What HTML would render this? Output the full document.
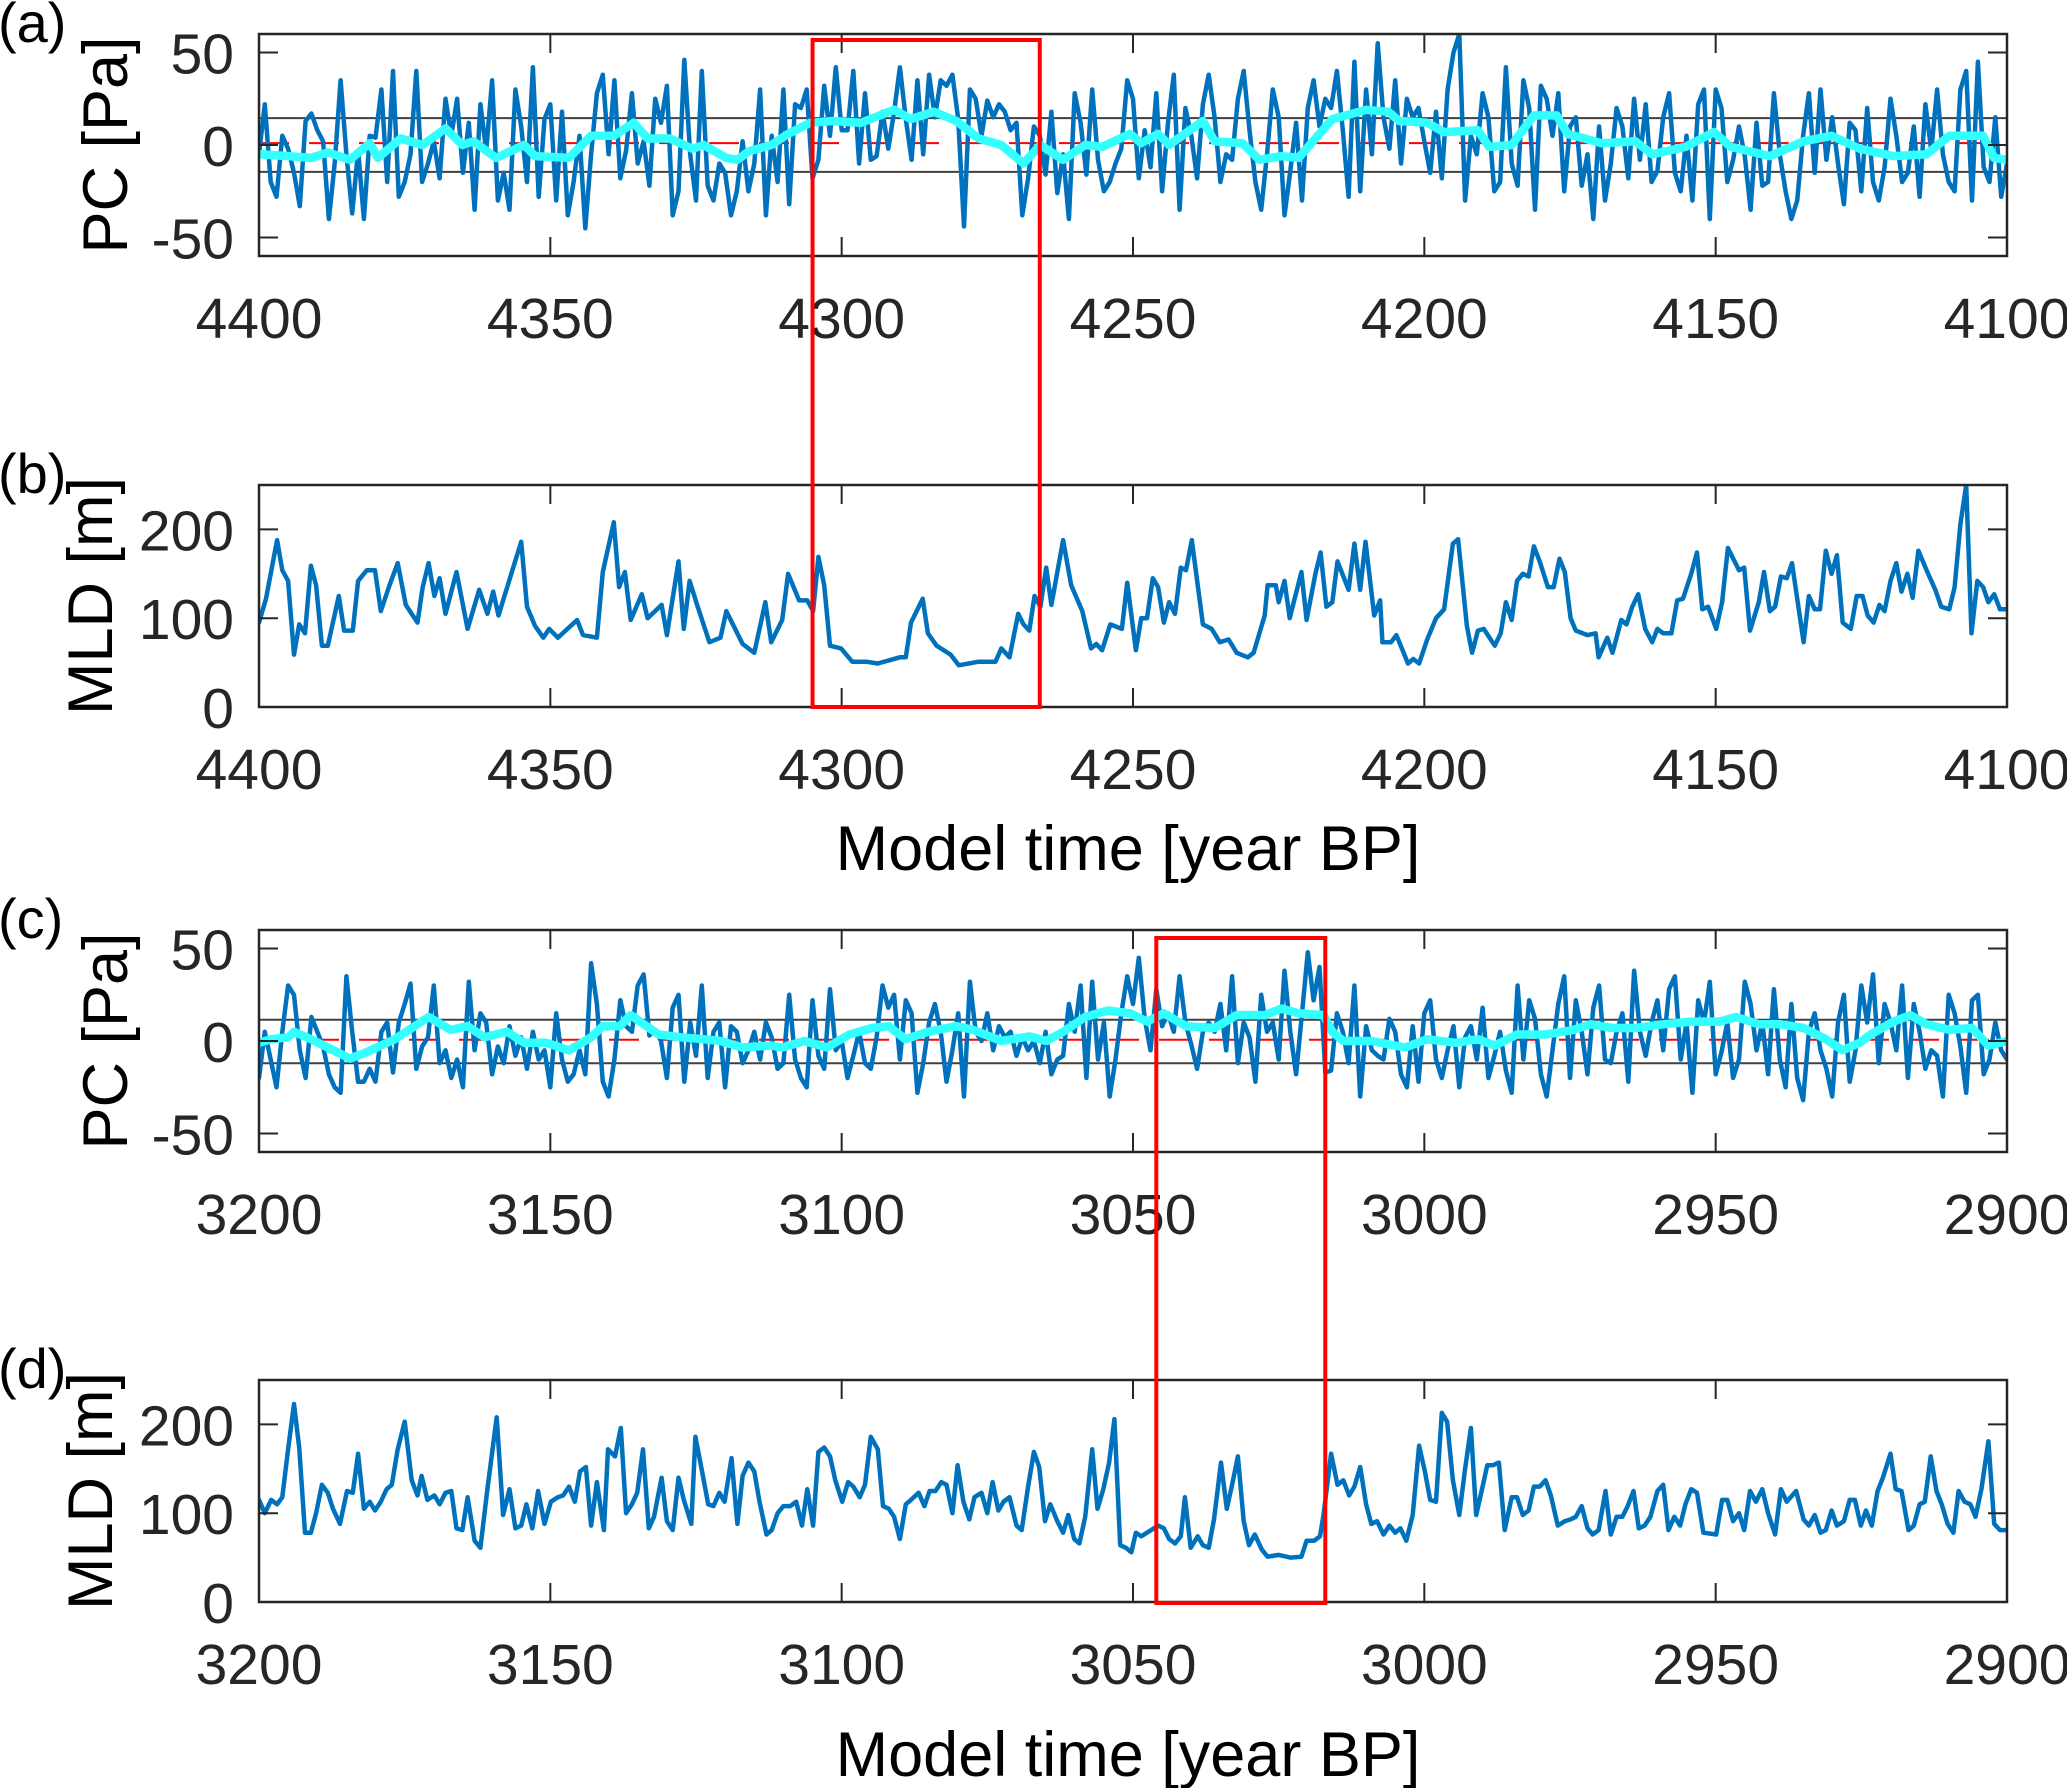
<!DOCTYPE html>
<html><head><meta charset="utf-8"><style>
html,body{margin:0;padding:0;background:#fff;}
svg{display:block;font-family:"Liberation Sans",Arial,sans-serif;}
</style></head><body>
<svg id="fig" width="2067" height="1788" viewBox="0 0 2067 1788" xmlns="http://www.w3.org/2000/svg"></svg>
<script>
// ---------- DATA ----------
const xTicksTop = [4400,4350,4300,4250,4200,4150,4100];
const xTicksBottom = [3200,3150,3100,3050,3000,2950,2900];
const pcTicks = [-50,0,50];
const mldTicks = [0,100,200];
const thrA = [14.5,-14.5];
const thrC = [11.5,-12];
const meanLineA = 1;
const meanLineC = 0.7;
const boxTop = [4305,4266];
const boxBottom = [3046,3017];

const pcA = [
-5,22,-20,-28,5,-2,-15,-33,13,17, 8,2,-40,-10,35,-5,-37,-3,-40,5,
4,30,-20,40,-28,-20,-5,40,-20,-10, 2,-18,25,5,25,-15,12,-35,22,-3,
35,-30,-15,-35,30,10,-20,42,-28,14, 22,-30,18,-38,-20,5,-45,-5,28,38,
-5,35,-18,-3,28,-10,2,-22,25,12, 32,-38,-25,46,-5,-30,40,-22,-30,-10,
-15,-38,-25,2,-25,-10,30,-38,5,-20, 30,-32,22,20,30,-18,-8,32,5,42,
8,8,40,-10,28,-8,-6,18,-2,18, 42,14,-8,35,-5,38,15,35,32,38,
14,-44,30,25,5,24,15,22,18,8, 12,-38,-18,10,5,-16,18,-26,-5,-40,
28,12,-16,30,-8,-25,-20,-10,-2,35, 25,-18,8,-12,28,-25,12,38,-35,20,
5,-18,22,38,15,-20,-5,-8,25,40, 8,-20,-35,-5,30,15,-38,-14,12,-30,
20,35,10,25,20,40,8,-28,45,-25, 30,-5,55,15,-2,35,-10,25,15,20,
2,-15,18,-18,30,50,60,-30,5,-5, 28,15,-25,-20,42,-10,-22,35,20,-35,
32,25,5,28,-25,10,15,-22,-5,-40, 10,-30,-10,20,10,-18,25,-8,22,-20,
-14,15,28,-15,-25,5,-30,22,30,-40, 30,20,-20,-8,10,-6,-35,12,-22,-20,
28,-5,-25,-40,-30,5,28,-15,30,-8, 15,-10,-32,12,8,-25,20,-20,-30,-12,
25,5,-20,-15,10,-28,22,-3,30,-5, -20,-25,30,40,-30,45,-12,-20,15,-28,
-10];
const smoothA = [[0,-5],[5,-6],[8.9,-7],[11.8,-4],[15.6,-8],[19,1],[20.4,-7],[24.3,3.5],[28.1,0],[32,9],[34.9,0],[36.8,2],[40.7,-7],[45.5,0],[47.4,-6],[53.2,-7],[57,5],[60.9,5],[64.3,12],[66.7,3.5],[70.5,3.5],[74.4,-2],[76.3,0],[80.2,-7],[82.1,-8],[84,-3.5],[87.9,0],[90.8,6],[94.6,12],[98.5,13],[103.3,12],[109,19],[111.9,14],[115.8,18],[119.7,13],[123.5,3.5],[127.4,0],[131.2,-10],[134.1,0],[138,-8],[141.8,0],[144.7,-1],[149.5,6],[151.4,1],[154.3,6],[156.2,0],[162,13],[164,2],[168.8,1],[171.7,-8],[175.5,-6],[178.4,-7],[184.2,14],[190,19],[193.8,18],[195.7,13],[200.5,12],[203.4,7],[209.2,8],[211.1,-1],[215,0],[218.8,16],[222.7,16],[224.6,6],[230.4,1],[236.2,2],[239.1,-5],[244.8,-1],[249.7,7],[252.6,-1],[259.3,-6],[265.1,2],[269.9,5],[274.7,-2],[280.5,-6],[286.2,-5],[290.1,5],[295.9,5],[297.8,-7],[300,-8]];
const mldB = [[0,95],[1.2,122],[3.1,188],[4,154],[5,142],[6,59],[6.9,93],[7.9,83],[8.9,159],[9.8,137],[10.8,69],[11.8,69],[13.7,125],[14.6,86],[16.1,86],[17,142],[18.5,154],[19.9,154],[20.9,108],[22.4,137],[23.8,162],[25.2,115],[27.2,95],[28.1,135],[29.1,162],[30.1,125],[31,145],[32,105],[33.9,152],[35.8,88],[37.8,132],[39.2,105],[40.2,130],[41.1,103],[42.6,135],[45,186],[46,113],[47.4,91],[48.8,78],[49.8,88],[51.3,78],[54.6,98],[55.6,81],[58,78],[59,152],[60.9,208],[61.8,135],[62.8,152],[63.8,98],[65.7,127],[66.7,100],[69.1,115],[70,81],[72,164],[72.9,88],[73.9,142],[75.3,113],[77.3,73],[79.2,78],[80.2,108],[83,71],[85,61],[86.9,118],[87.9,73],[89.8,98],[90.8,150],[92.7,120],[94.1,120],[95.1,108],[96,169],[97,137],[98,69],[99.9,66],[101.8,51],[104.2,51],[106.2,49],[110,56],[111,56],[111.9,95],[113.9,122],[114.8,83],[116.3,69],[118.7,59],[120.1,47],[123.5,51],[126.4,51],[127.4,66],[128.8,56],[130.3,105],[131.2,93],[132.2,86],[133.1,125],[134.1,113],[135.1,157],[136,115],[138,188],[139.4,137],[141.3,108],[142.8,66],[143.7,71],[144.7,64],[146.1,93],[148.1,88],[149,140],[150.5,64],[151.4,100],[152.4,100],[153.4,145],[154.3,135],[155.3,95],[156.2,118],[157.2,105],[158.2,157],[159.1,154],[160.1,188],[162,93],[163.5,88],[164.9,73],[166.4,76],[167.8,61],[169.7,56],[170.7,61],[172.6,103],[173.1,137],[174.5,137],[175,118],[176,142],[176.9,100],[178.9,152],[179.8,98],[181.3,150],[182.2,174],[183.2,113],[184.2,118],[185.1,164],[187,132],[188,184],[189,132],[189.9,186],[191.4,103],[192.4,120],[192.8,73],[194.3,73],[195.2,81],[197.2,49],[198.1,54],[199.1,49],[200.5,76],[202,100],[203.4,110],[204.9,184],[205.8,189],[207.3,91],[208.2,61],[209.2,86],[210.2,88],[212.1,69],[213.1,83],[214,118],[215,98],[215.9,142],[216.9,150],[217.9,147],[218.8,181],[219.8,164],[221.2,135],[222.2,135],[223.2,167],[224.1,152],[225.1,100],[226,86],[228,81],[229.4,83],[229.9,56],[231.4,78],[232.3,61],[233.8,98],[234.7,93],[235.7,113],[236.7,127],[237.9,88],[239.1,73],[240,88],[241,83],[242.4,83],[243.4,120],[244.4,122],[245.8,150],[246.8,174],[247.7,110],[248.7,113],[250.1,88],[251.1,118],[252.1,179],[254,154],[254.9,157],[255.9,86],[257.4,118],[258.3,152],[259.3,108],[260.2,113],[261.2,147],[262.2,145],[263.1,162],[265.1,73],[266,125],[267,110],[267.9,110],[268.9,176],[269.9,150],[270.8,171],[271.8,95],[273.2,88],[274.2,125],[275.2,125],[276.1,103],[277.1,95],[278.1,115],[279,108],[280,142],[281,162],[281.9,130],[282.9,150],[283.8,123],[284.8,176],[286.2,154],[287.7,132],[288.7,113],[290.1,110],[291,135],[292,206],[293,250],[293.9,83],[294.9,142],[295.9,135],[296.8,118],[297.8,127],[298.8,110],[300,110]];

const pcC = [
-20,5,-10,-25,5,30,25,-5,-20,13, 5,-3,-18,-25,-28,35,5,-22,-22,-15,
-22,5,10,-17,10,20,31,-15,-3,2, 30,-12,-5,-20,-10,-25,32,-5,15,10,
-18,-3,-12,8,-8,2,-15,5,-10,-5, -25,15,-10,-22,-18,-5,-18,42,20,-22,
-30,-10,22,8,5,30,36,3,6,0, -20,18,25,-22,10,-8,30,-20,5,10,
-25,8,5,-12,-5,5,-10,10,2,-15, -12,25,-10,-20,-25,22,-8,-15,28,-5,
0,-20,-8,5,-12,-15,2,30,18,25, -10,22,15,-28,-12,10,20,5,-22,-5,
15,-30,32,5,0,15,-5,8,2,5, -8,2,-5,0,-12,5,-18,-10,-8,20,
5,30,-20,32,-10,10,-30,-10,15,35, 20,45,12,-5,28,8,15,5,35,10,
-2,-15,5,10,5,20,-5,35,-12,10, 2,-22,25,5,10,-10,38,5,-18,15,
48,22,40,-17,-16,15,5,-12,30,-30, 8,-5,-8,-10,12,5,-18,-25,8,-22,
15,22,-10,-20,-5,8,-25,2,8,-10, 18,-20,-8,5,-16,-28,30,-10,22,12,
-18,-30,-5,20,35,-20,22,5,-18,18, 30,-10,-12,5,15,-22,38,5,-8,10,
22,-5,28,35,-10,10,-28,22,10,32, -18,-6,10,-20,-10,32,20,-5,10,-18,
28,-10,-25,20,-20,-32,5,15,-5,-15, -30,10,25,-22,-5,30,10,36,-12,20,
10,-5,30,-20,20,5,-15,-5,-8,-30, 25,15,-3,-28,22,25,-18,-10,10,-5,
-10];
const smoothC = [[0,-1],[2.1,1],[5,2],[6,5],[8.9,1],[11.8,-3.5],[15.6,-9.5],[18.5,-6],[23.3,1],[29.1,13],[32.9,6],[35.8,8],[38.7,2],[42.6,5],[45.5,-1],[49.3,-1],[53.2,-5],[57,2],[59,8],[61.9,8],[63.8,14],[68.6,3.5],[72.4,2],[76.3,1],[79.2,0],[83,-3.5],[87.9,-2.5],[89.8,-3.5],[93.6,0],[97.5,-3.5],[101.3,3.5],[105.2,7],[108.1,8],[110.9,1],[114.8,5],[119.7,8],[122.6,6],[127.4,0],[132.2,2.5],[135.1,0],[138,5],[141.8,13],[145.7,16.5],[149.5,15],[152.4,10.5],[155.3,15],[159.1,8],[164,7],[167.8,14],[172.6,14],[175.5,17.5],[178.4,15],[182.7,14],[184.2,5],[186.1,0],[190.9,0],[196.7,-3.5],[200.5,1],[205.4,-1],[209.2,1],[212.1,-2.5],[215.9,3.5],[220.8,3.5],[225.6,6],[228.5,9],[232.3,7],[236.2,7],[241,9],[245.8,10.5],[250.6,10.5],[253.5,13],[257.4,9],[261.2,9],[265.1,7],[268.9,1],[271.8,-5],[274.7,-1],[276.6,3.5],[280.5,10.5],[283.4,14],[286.2,9],[290.1,6],[294,7],[296.8,-2.5],[300,0]];
const mldD = [[0,115],[1,100],[2.1,115],[3.1,110],[4,118],[5,172],[6,223],[6.9,174],[7.9,78],[8.9,78],[9.8,100],[10.8,132],[11.8,123],[12.7,105],[13.9,88],[15.1,125],[16.1,123],[17,167],[18,105],[19,113],[19.9,103],[20.9,113],[21.9,127],[22.8,132],[23.8,172],[25,203],[26.2,137],[27.2,120],[27.9,142],[28.9,115],[30.1,120],[31,110],[32,123],[33,125],[33.9,83],[34.9,81],[35.8,118],[37,69],[38,61],[39.2,127],[40.8,208],[41.9,98],[43,127],[44,83],[45,86],[45.9,110],[46.9,83],[47.9,125],[49,88],[50.1,113],[51.3,118],[52.2,120],[53.2,130],[54.2,113],[55.1,147],[56.1,152],[57,86],[58,135],[59.2,81],[59.9,172],[61.1,164],[62.1,196],[63,100],[64,110],[64.9,123],[65.9,172],[66.9,83],[67.8,96],[69.1,140],[70,91],[71,81],[72,140],[72.9,115],[74.2,88],[74.9,186],[76.1,145],[77.1,110],[78,108],[79,123],[79.9,113],[81.1,162],[82.1,88],[83,142],[84,157],[85,147],[85.9,113],[87.1,76],[88,81],[89,100],[90,108],[91.2,108],[92.2,113],[93.2,86],[94.1,127],[95.1,86],[96,169],[97,174],[98,164],[98.9,137],[100.1,113],[101.1,135],[102,130],[103.1,118],[104,132],[105,186],[106.2,172],[107.1,108],[108.1,105],[109,96],[110,71],[111,110],[111.9,115],[113.2,123],[114.2,108],[115.1,125],[116.1,125],[117.1,135],[118,132],[119,100],[119.9,154],[120.9,113],[121.9,93],[122.8,118],[124,123],[125,100],[125.9,135],[126.9,103],[127.8,113],[128.8,118],[130,86],[130.9,81],[132,130],[133,169],[133.9,152],[134.9,91],[135.8,110],[137,91],[138,78],[138.9,98],[139.9,71],[140.8,66],[141.8,96],[143,172],[143.9,105],[144.9,127],[145.9,157],[146.8,206],[147.8,64],[148.8,61],[149.7,56],[150.5,78],[151.4,74],[152.4,78],[154.3,86],[155.3,83],[156.2,71],[157.2,66],[158.2,74],[158.9,118],[159.9,61],[161.1,74],[162,64],[163,61],[163.9,93],[165.1,157],[166.1,105],[167,132],[168,164],[169,91],[169.9,64],[170.9,76],[172.1,59],[173.1,51],[175,53],[177,50],[178.9,51],[179.8,69],[181.1,69],[182.1,74],[182.7,98],[184,167],[185.1,132],[186.1,137],[187.1,120],[188,130],[189,152],[190,110],[190.9,88],[191.9,91],[193,76],[194,86],[195,78],[195.9,83],[196.9,69],[198,98],[199.1,176],[200.1,147],[201,115],[202,113],[203,213],[203.9,203],[204.9,137],[206,98],[207,150],[208,196],[208.9,98],[209.9,127],[210.8,154],[211.8,154],[212.8,157],[213.8,81],[215,118],[215.9,118],[216.9,98],[217.9,103],[218.8,130],[219.8,130],[220.8,137],[221.7,120],[222.9,86],[224.1,91],[225.1,93],[226,96],[227,108],[228,83],[228.9,76],[229.9,81],[231.1,125],[232,76],[233,96],[234,96],[234.9,108],[235.9,125],[236.8,83],[237.8,86],[238.8,96],[240,125],[241,132],[241.9,81],[242.9,96],[243.9,86],[244.8,110],[245.8,127],[246.8,123],[247.9,78],[250.1,76],[251.1,115],[252,115],[253,91],[254,100],[254.9,81],[255.9,125],[256.9,113],[258,127],[259,100],[260.2,76],[261.2,127],[262.2,113],[263.8,125],[265.1,93],[266,86],[267,98],[268,78],[268.9,81],[269.9,103],[270.8,86],[272,91],[273,115],[273.9,115],[274.9,86],[275.8,103],[276.8,86],[277.8,125],[278.7,140],[280,167],[280.9,127],[281.9,125],[283.1,81],[284,86],[285,110],[285.9,113],[286.9,164],[287.9,125],[288.8,110],[289.8,88],[290.8,78],[291.7,125],[292.7,113],[293.7,110],[294.6,96],[295.6,127],[296.8,181],[297.8,88],[298.8,81],[300,81]];

// ---------- DRAWING ----------
const svg = document.getElementById('fig');
const NS = 'http://www.w3.org/2000/svg';
const X0 = 259, X1 = 2007;
function el(tag, attrs, parent){
  const e = document.createElementNS(NS, tag);
  for (const k in attrs) e.setAttribute(k, attrs[k]);
  (parent||svg).appendChild(e);
  return e;
}
function panel(id, top, bottom, ymin, ymax, startYear, yticks, ylabel, letter, xticks){
  const g = el('g', {});
  
  
  const xs = yr => X0 + (startYear - yr) / 300 * (X1 - X0);
  const ys = v => bottom - (v - ymin) / (ymax - ymin) * (bottom - top);
  const clipId = 'clip-' + id;
  const cp = el('clipPath', {id: clipId}, g);
  el('rect', {x: X0, y: top, width: X1 - X0, height: bottom - top}, cp);
  const plot = el('g', {'clip-path': 'url(#' + clipId + ')'}, g);
  
  
  xticks.forEach(t => {
    const x = xs(t);
    el('line', {x1: x, x2: x, y1: bottom, y2: bottom - 19, stroke: '#262626', 'stroke-width': 2}, g);
    el('line', {x1: x, x2: x, y1: top, y2: top + 19, stroke: '#262626', 'stroke-width': 2}, g);
    const tx = el('text', {x: x, y: bottom + 82, 'font-size': 57, fill: '#262626', 'text-anchor': 'middle'}, g);
    tx.textContent = t;
    
    
  });
  yticks.forEach(t => {
    const y = ys(t);
    el('line', {x1: X0, x2: X0 + 19, y1: y, y2: y, stroke: '#262626', 'stroke-width': 2}, g);
    el('line', {x1: X1, x2: X1 - 19, y1: y, y2: y, stroke: '#262626', 'stroke-width': 2}, g);
    const tx = el('text', {x: 234, y: y + 21, 'font-size': 57, fill: '#262626', 'text-anchor': 'end'}, g);
    tx.textContent = t;
    
    
  });
  const yl = el('text', {x: 0, y: 0, 'font-size': 63, fill: '#000', 'text-anchor': 'middle',
    transform: 'translate(' + (ylabel === 'PC [Pa]' ? 127 : 112) + ',' + ((top + bottom) / 2) + ') rotate(-90)'}, g);
  yl.textContent = ylabel;
  
  
  const pl = el('text', {x: -2, y: top + 8, 'font-size': 56, fill: '#000'}, g);
  pl.textContent = '(' + letter + ')';
  
  
  return {g, plot, xs, ys, top, bottom};
}
function polyline(parent, pts, color, width, name, dash){
  const p = el('polyline', {points: pts.map(q => q[0].toFixed(1) + ',' + q[1].toFixed(1)).join(' '),
    fill: 'none', stroke: color, 'stroke-width': width, 'stroke-linejoin': 'round', 'stroke-linecap': 'round'}, parent);
  if (dash) p.setAttribute('stroke-dasharray', dash);
  
  
  return p;
}
function hline(P, v, color, dash, name){
  const y = P.ys(v);
  const l = el('line', {x1: X0, x2: X1, y1: y, y2: y, stroke: color, 'stroke-width': 2}, P.plot);
  if (dash) l.setAttribute('stroke-dasharray', dash);
  
  
}
function frame(P){
  const r = el('rect', {x: X0, y: P.top, width: X1 - X0, height: P.bottom - P.top, fill: 'none', stroke: '#262626', 'stroke-width': 2.5}, P.g);
  
  
}
function pcPanel(id, top, bottom, start, data, smooth, thr, mean, letter, xt){
  const P = panel(id, top, bottom, -60, 60, start, pcTicks, 'PC [Pa]', letter, xt);
  thr.forEach(v => hline(P, v, '#404040', null, 'threshold-line'));
  hline(P, mean, '#ff0000', '30 20', 'mean-line');
  polyline(P.plot, data.map((v, i) => [P.xs(start - i), P.ys(v)]), '#0072bd', 4.5, 'pc-series');
  polyline(P.plot, smooth.map(q => [P.xs(start - q[0]), P.ys(q[1])]), '#33ffff', 8.5, 'pc-smoothed');
  frame(P);
  return P;
}
function mldPanel(id, top, bottom, start, data, letter, xt){
  const P = panel(id, top, bottom, 0, 250, start, mldTicks, 'MLD [m]', letter, xt);
  polyline(P.plot, data.map(q => [P.xs(start - q[0]), P.ys(q[1])]), '#0072bd', 4.5, 'mld-series');
  frame(P);
  return P;
}
const A = pcPanel('a', 34, 256, 4400, pcA, smoothA, thrA, meanLineA, 'a', xTicksTop);
const B = mldPanel('b', 485, 707, 4400, mldB, 'b', xTicksTop);
const C = pcPanel('c', 930, 1152, 3200, pcC, smoothC, thrC, meanLineC, 'c', xTicksBottom);
const D = mldPanel('d', 1380, 1602, 3200, mldD, 'd', xTicksBottom);

function xlabel(y){
  const t = el('text', {x: 1128, y: y, 'font-size': 63, fill: '#000', 'text-anchor': 'middle'});
  t.textContent = 'Model time [year BP]';
  
  
}
xlabel(870);
xlabel(1776);

function box(P, yrs, topY, bottomY, name){
  const xa = P.xs(yrs[0]), xb = P.xs(yrs[1]);
  const r = el('rect', {x: xa, y: topY, width: xb - xa, height: bottomY - topY, fill: 'none', stroke: '#ff0000', 'stroke-width': 4});
  
  
}
box(A, boxTop, 40, 707, 'highlight-box-top');
box(C, boxBottom, 938, 1603, 'highlight-box-bottom');
</script>
</body></html>
